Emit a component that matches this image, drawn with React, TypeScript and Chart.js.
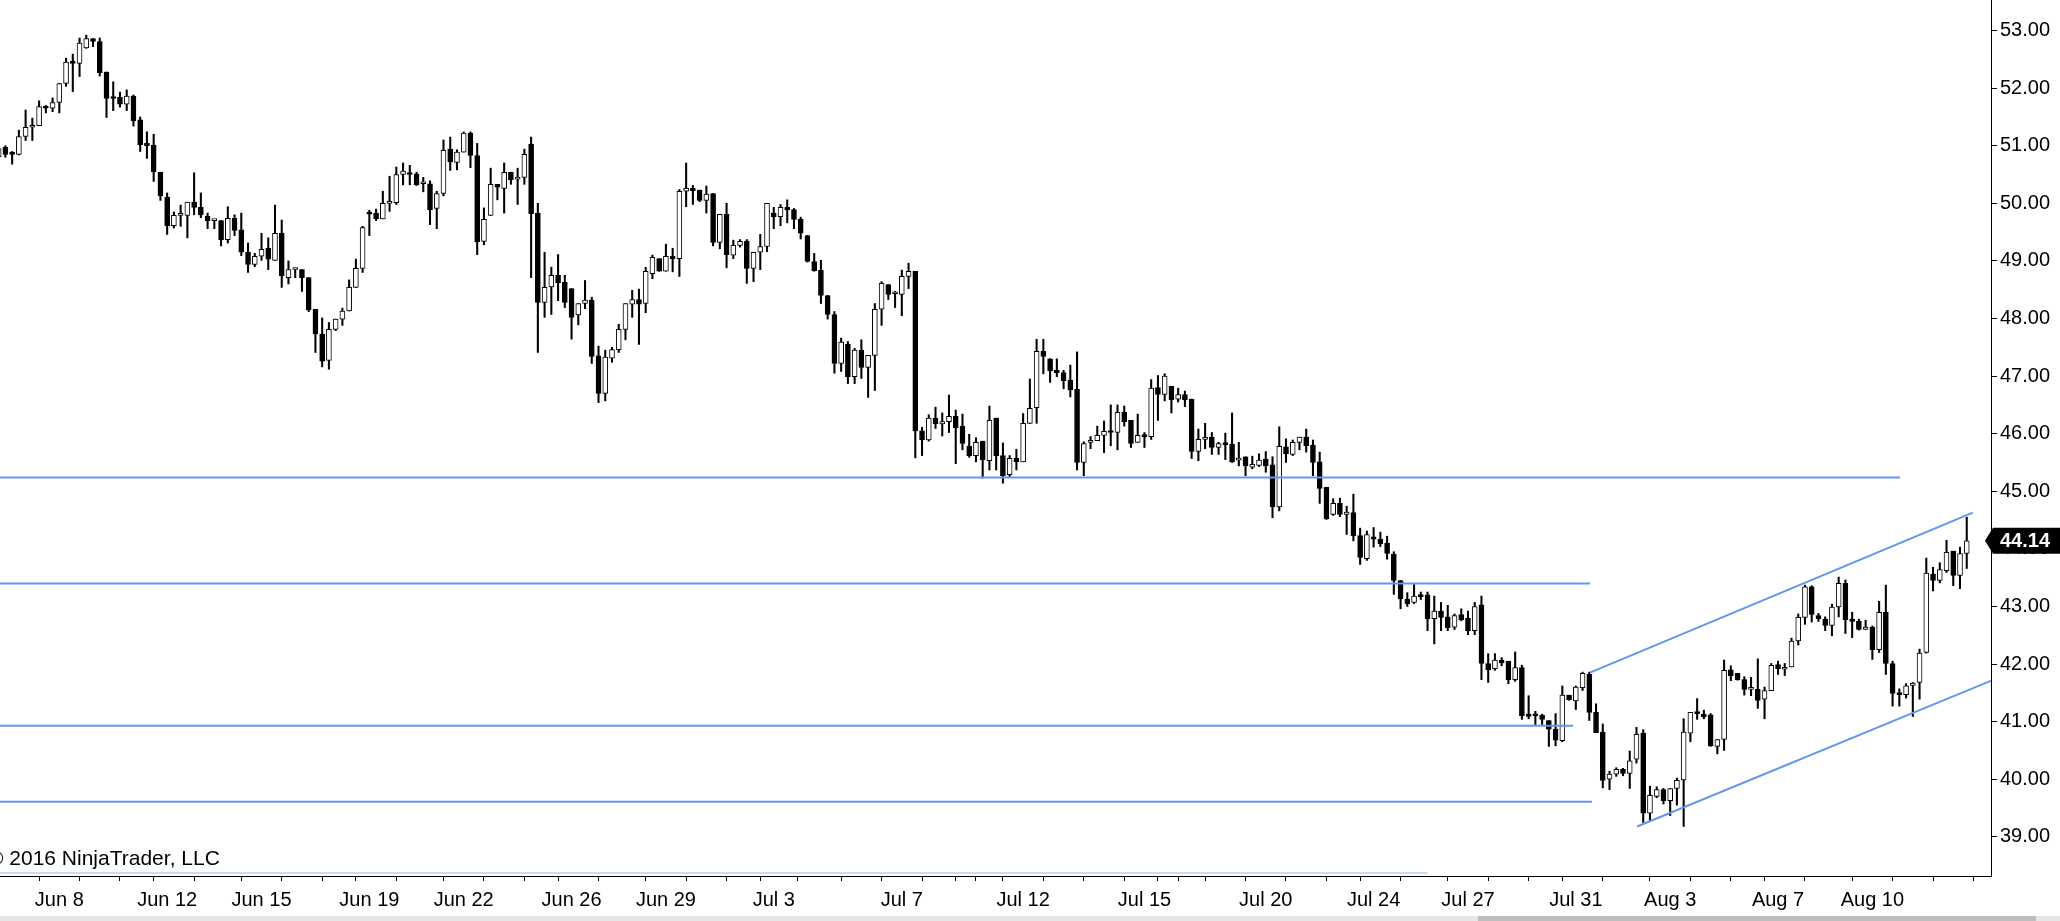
import React, { useEffect, useRef } from 'react';
import { Chart, registerables } from 'chart.js';

Chart.register(...registerables);

// 4-hour bars, oldest first
const opens = [
  50.81, 50.97, 50.87, 50.85, 51.16, 51.32, 51.35, 51.68, 51.65, 51.75,
  52.08, 52.45, 52.43, 52.70, 52.86, 52.81, 52.28, 51.84, 51.84, 51.72,
  51.86, 51.45, 51.04, 51.01, 50.54, 50.11, 49.61, 49.79, 49.79, 50.02,
  49.93, 49.78, 49.70, 49.70, 49.37, 49.74, 49.54, 49.15, 48.94, 49.08,
  49.22, 49.01, 49.48, 48.71, 48.85, 48.85, 48.71, 48.16, 47.73, 47.27,
  47.81, 47.99, 48.13, 48.54, 48.87, 49.83, 49.83, 49.73, 50.00, 50.01,
  50.50, 50.53, 50.51, 50.34, 50.34, 49.91, 50.17, 50.94, 50.71, 50.89,
  51.22, 50.83, 49.34, 49.79, 50.33, 50.26, 50.54, 50.42, 50.45, 51.03,
  49.83, 48.28, 48.55, 48.75, 48.63, 48.52, 48.06, 48.26, 48.32, 47.35,
  46.70, 47.31, 47.46, 47.81, 48.25, 48.33, 48.26, 48.78, 49.04, 48.82,
  49.08, 49.04, 50.21, 50.26, 50.23, 50.05, 50.17, 49.32, 49.81, 49.10,
  49.27, 49.34, 48.87, 49.15, 49.25, 49.83, 49.77, 49.93, 49.89, 49.72,
  49.44, 48.99, 48.84, 48.40, 48.07, 47.22, 47.55, 46.99, 47.45, 47.15,
  47.36, 48.16, 48.59, 48.43, 48.42, 48.73, 48.82, 46.05, 45.89, 46.27,
  46.17, 46.21, 46.30, 46.13, 45.78, 45.62, 45.87, 45.53, 46.27, 45.62,
  45.29, 45.57, 45.51, 46.18, 46.45, 47.43, 47.30, 47.10, 47.06, 46.93,
  46.77, 45.50, 45.85, 45.88, 45.97, 46.05, 46.02, 46.37, 46.23, 45.85,
  45.97, 45.95, 46.80, 46.68, 46.82, 46.60, 46.68, 46.60, 45.69, 45.90,
  45.94, 45.76, 45.83, 45.82, 45.54, 45.60, 45.42, 45.45, 45.56, 45.46,
  44.73, 45.77, 45.64, 45.85, 45.94, 45.80, 45.51, 45.07, 44.60, 44.79,
  44.60, 44.63, 44.23, 43.83, 44.21, 44.17, 44.10, 43.91, 43.45, 43.13,
  43.07, 43.20, 43.20, 42.79, 42.92, 42.82, 42.64, 42.86, 42.80, 42.58,
  43.03, 42.01, 41.92, 42.07, 42.05, 41.73, 41.94, 41.13, 41.13, 41.11,
  41.02, 40.87, 40.67, 41.46, 41.36, 41.59, 41.82, 41.16, 40.82, 40.00,
  40.09, 40.17, 40.10, 40.35, 40.80, 39.41, 39.70, 39.82, 39.63, 39.84,
  39.99, 40.80, 41.17, 41.13, 41.12, 40.57, 40.69, 41.90, 41.84, 41.73,
  41.56, 41.56, 41.39, 41.54, 41.99, 41.91, 41.95, 42.40, 42.81, 43.34,
  42.84, 42.78, 42.67, 42.99, 43.40, 42.78, 42.74, 42.60, 42.64, 42.25,
  42.90, 42.01, 41.50, 41.47, 41.63, 41.68, 42.20, 43.56, 43.45, 43.62,
  43.96, 43.54, 43.92,
];

const highs = [
  50.98, 51.00, 50.90, 51.27, 51.62, 51.48, 51.78, 51.70, 51.83, 52.08,
  52.52, 52.59, 52.87, 52.92, 52.86, 52.87, 52.28, 52.11, 51.93, 51.97,
  51.88, 51.50, 51.24, 51.20, 50.54, 50.18, 49.85, 49.97, 50.02, 50.53,
  50.18, 49.83, 49.70, 49.70, 49.94, 49.80, 49.83, 49.31, 49.13, 49.48,
  49.40, 49.97, 49.71, 49.00, 48.85, 48.85, 48.71, 48.16, 48.01, 47.93,
  47.99, 48.18, 48.67, 49.03, 49.60, 49.88, 49.90, 50.21, 50.47, 50.63,
  50.70, 50.66, 50.54, 50.45, 50.39, 50.21, 51.10, 51.15, 50.93, 51.24,
  51.24, 51.04, 49.92, 50.61, 50.33, 50.70, 50.54, 50.61, 50.94, 51.15,
  50.00, 49.15, 48.89, 49.11, 48.75, 48.52, 48.26, 48.66, 48.37, 47.52,
  47.45, 47.50, 47.90, 48.26, 48.49, 48.51, 48.89, 49.10, 49.04, 49.29,
  49.22, 50.24, 50.70, 50.31, 50.23, 50.30, 50.17, 49.81, 50.00, 49.36,
  49.37, 49.37, 49.15, 49.46, 50.00, 49.93, 49.98, 50.06, 49.91, 49.76,
  49.44, 49.13, 49.01, 48.40, 48.12, 47.66, 47.60, 47.48, 47.63, 47.36,
  48.26, 48.64, 48.59, 48.47, 48.84, 48.96, 48.82, 46.11, 46.33, 46.46,
  46.36, 46.67, 46.41, 46.34, 45.99, 45.93, 45.87, 46.48, 46.27, 45.84,
  45.62, 45.73, 46.35, 46.95, 47.64, 47.64, 47.30, 47.30, 47.10, 47.19,
  47.42, 45.86, 45.95, 46.13, 46.22, 46.50, 46.50, 46.48, 46.23, 46.34,
  46.02, 46.94, 47.01, 47.04, 46.82, 46.79, 46.74, 46.60, 46.08, 46.18,
  46.02, 45.85, 46.01, 46.36, 45.85, 45.60, 45.61, 45.65, 45.69, 45.60,
  46.12, 45.91, 45.89, 45.94, 46.08, 45.89, 45.68, 45.07, 44.87, 44.88,
  44.74, 44.95, 44.36, 44.31, 44.37, 44.29, 44.22, 43.95, 43.45, 43.24,
  43.38, 43.25, 43.25, 43.18, 43.07, 43.02, 42.87, 42.96, 42.92, 43.07,
  43.18, 42.18, 42.18, 42.11, 42.05, 42.21, 41.98, 41.45, 41.18, 41.13,
  41.02, 41.14, 41.62, 41.46, 41.62, 41.86, 41.86, 41.31, 40.96, 40.14,
  40.20, 40.19, 40.49, 40.90, 40.86, 39.88, 39.87, 39.84, 39.84, 40.02,
  41.05, 41.16, 41.40, 41.20, 41.14, 40.69, 42.07, 41.97, 41.84, 41.78,
  41.77, 42.09, 41.60, 42.01, 42.05, 42.01, 42.45, 42.87, 43.37, 43.36,
  42.88, 42.82, 43.04, 43.51, 43.46, 42.90, 42.78, 42.76, 42.66, 43.09,
  43.37, 42.05, 41.57, 41.66, 41.68, 42.26, 43.84, 43.68, 43.76, 44.15,
  43.96, 44.03, 44.55,
];

const lows = [
  50.62, 50.80, 50.68, 50.84, 51.09, 51.09, 51.35, 51.57, 51.59, 51.57,
  52.03, 51.94, 52.20, 52.69, 52.72, 52.21, 51.49, 51.61, 51.67, 51.61,
  51.34, 50.90, 50.78, 50.38, 50.05, 49.46, 49.57, 49.60, 49.40, 49.80,
  49.75, 49.56, 49.56, 49.26, 49.31, 49.44, 49.09, 48.80, 48.90, 49.01,
  48.85, 49.01, 48.54, 48.60, 48.71, 48.47, 48.12, 47.41, 47.16, 47.12,
  47.79, 47.88, 48.13, 48.54, 48.80, 49.44, 49.70, 49.73, 49.86, 49.98,
  50.32, 50.32, 50.31, 50.20, 49.63, 49.56, 50.13, 50.57, 50.58, 50.89,
  50.62, 49.11, 49.28, 49.79, 50.06, 49.83, 50.33, 49.98, 50.33, 48.71,
  47.41, 48.02, 48.07, 48.31, 48.19, 47.64, 47.89, 48.17, 47.22, 46.54,
  46.57, 47.24, 47.41, 47.63, 48.02, 47.55, 48.10, 48.69, 48.82, 48.82,
  48.81, 48.73, 49.94, 49.98, 50.03, 49.83, 49.26, 49.21, 48.88, 49.04,
  49.24, 48.61, 48.64, 48.85, 49.16, 49.56, 49.61, 49.66, 49.56, 49.38,
  48.98, 48.82, 48.26, 47.99, 47.05, 47.08, 46.87, 46.87, 46.96, 46.63,
  46.75, 47.88, 48.33, 48.19, 48.05, 48.52, 45.58, 45.62, 45.87, 46.09,
  45.96, 46.02, 45.48, 45.72, 45.59, 45.51, 45.23, 45.37, 45.37, 45.14,
  45.24, 45.37, 45.51, 46.18, 46.18, 47.04, 46.89, 46.99, 46.78, 46.64,
  45.37, 45.27, 45.74, 45.88, 45.67, 45.79, 45.72, 46.13, 45.76, 45.85,
  45.76, 45.90, 46.23, 46.57, 46.36, 46.55, 46.47, 45.57, 45.53, 45.74,
  45.64, 45.64, 45.55, 45.50, 45.44, 45.27, 45.39, 45.43, 45.33, 44.54,
  44.66, 45.50, 45.62, 45.72, 45.68, 45.27, 44.79, 44.51, 44.58, 44.56,
  44.25, 44.14, 43.73, 43.80, 44.03, 44.04, 43.82, 43.21, 42.96, 43.00,
  43.05, 43.12, 42.58, 42.35, 42.58, 42.58, 42.60, 42.75, 42.51, 42.51,
  41.73, 41.68, 41.89, 41.97, 41.66, 41.70, 41.04, 41.05, 40.95, 40.95,
  40.57, 40.58, 40.65, 41.37, 41.21, 41.54, 41.02, 40.81, 39.85, 39.82,
  40.05, 40.06, 39.84, 40.28, 39.25, 39.28, 39.68, 39.57, 39.37, 39.55,
  39.18, 40.65, 41.04, 41.05, 40.57, 40.44, 40.50, 41.71, 41.72, 41.46,
  41.45, 41.23, 41.05, 41.54, 41.82, 41.80, 41.95, 42.33, 42.69, 42.73,
  42.74, 42.58, 42.49, 42.82, 42.53, 42.46, 42.59, 42.60, 42.08, 42.20,
  41.82, 41.27, 41.27, 41.41, 41.09, 41.39, 42.19, 43.27, 43.41, 43.59,
  43.36, 43.31, 43.66,
];

const closes = [
  50.95, 50.85, 50.85, 51.16, 51.32, 51.35, 51.68, 51.65, 51.75, 52.08,
  52.45, 52.43, 52.78, 52.86, 52.81, 52.27, 51.82, 51.82, 51.72, 51.86,
  51.43, 51.02, 51.00, 50.55, 50.13, 49.61, 49.79, 49.79, 50.02, 49.93,
  49.80, 49.70, 49.70, 49.37, 49.74, 49.53, 49.15, 48.94, 49.08, 49.20,
  49.03, 49.48, 48.74, 48.85, 48.85, 48.71, 48.15, 47.73, 47.26, 47.81,
  47.99, 48.13, 48.54, 48.87, 49.58, 49.81, 49.73, 50.00, 50.03, 50.50,
  50.56, 50.50, 50.32, 50.34, 49.89, 50.17, 50.92, 50.72, 50.89, 51.22,
  50.83, 49.33, 49.72, 50.33, 50.28, 50.54, 50.41, 50.45, 50.85, 49.82,
  48.28, 48.54, 48.75, 48.62, 48.28, 48.02, 48.26, 48.32, 47.34, 46.70,
  47.33, 47.46, 47.81, 48.26, 48.33, 48.25, 48.82, 49.06, 48.82, 49.08,
  49.04, 50.21, 50.26, 50.22, 50.05, 50.16, 49.32, 49.81, 49.11, 49.27,
  49.34, 48.87, 49.15, 49.25, 50.00, 49.77, 49.93, 49.89, 49.72, 49.48,
  48.99, 48.83, 48.40, 48.07, 47.22, 47.59, 46.99, 47.45, 47.15, 47.36,
  48.16, 48.61, 48.42, 48.43, 48.73, 48.82, 46.05, 45.89, 46.27, 46.17,
  46.21, 46.30, 46.10, 45.83, 45.62, 45.85, 45.55, 46.23, 45.62, 45.27,
  45.57, 45.51, 46.18, 46.44, 47.43, 47.34, 47.09, 47.06, 46.92, 46.76,
  45.50, 45.83, 45.88, 45.97, 46.04, 46.02, 46.37, 46.21, 45.83, 45.97,
  45.95, 46.79, 46.68, 47.00, 46.59, 46.68, 46.59, 45.69, 45.90, 45.90,
  45.76, 45.83, 45.81, 45.51, 45.57, 45.44, 45.47, 45.54, 45.44, 44.73,
  45.78, 45.65, 45.85, 45.94, 45.79, 45.50, 45.05, 44.52, 44.79, 44.60,
  44.64, 44.23, 43.85, 44.25, 44.17, 44.09, 43.92, 43.45, 43.13, 43.05,
  43.18, 43.17, 42.79, 42.92, 42.81, 42.63, 42.84, 42.77, 42.58, 43.00,
  42.01, 41.90, 42.07, 42.02, 41.73, 41.94, 41.10, 41.09, 41.10, 41.04,
  40.87, 40.68, 41.46, 41.38, 41.60, 41.84, 41.16, 40.81, 39.98, 40.09,
  40.17, 40.10, 40.32, 40.78, 39.41, 39.72, 39.82, 39.63, 39.84, 39.98,
  40.82, 41.16, 41.14, 41.08, 40.58, 40.69, 41.89, 41.80, 41.73, 41.56,
  41.56, 41.37, 41.54, 41.98, 41.92, 41.94, 42.40, 42.81, 43.34, 42.86,
  42.79, 42.67, 42.99, 43.40, 42.77, 42.74, 42.60, 42.64, 42.25, 42.90,
  42.01, 41.49, 41.47, 41.62, 41.67, 42.19, 43.58, 43.45, 43.64, 43.94,
  43.54, 43.92, 44.14,
];

// x axis: one tick per session (bar index), dates written under some of them
const tickBars = [
  9, 15, 21, 25, 33, 39, 45, 51, 55, 63, 69, 75, 81, 85, 93, 99, 105, 111, 115, 122,
  128, 134, 140, 144, 146, 152, 158, 164, 170, 174, 176, 182, 188, 194, 200, 204,
  212, 218, 224, 230, 234, 242, 248, 254, 260, 264, 272, 278, 284, 290,
];
const dateBars = [9, 25, 39, 55, 69, 85, 99, 115, 134, 152, 170, 188, 204, 218, 234, 248, 264, 278];
const dateLabels = [
  'Jun 8', 'Jun 12', 'Jun 15', 'Jun 19', 'Jun 22', 'Jun 26', 'Jun 29', 'Jul 3', 'Jul 7',
  'Jul 12', 'Jul 15', 'Jul 20', 'Jul 24', 'Jul 27', 'Jul 31', 'Aug 3', 'Aug 7', 'Aug 10',
];

const priceTicks = [39, 40, 41, 42, 43, 44, 45, 46, 47, 48, 49, 50, 51, 52, 53];

// drawn horizontal levels: price and the bar where each one stops
const levelPrices = [45.24, 43.40, 40.93, 39.61];
const levelEndBars = [282.1, 236.1, 233.6, 236.4];
const faintLevelPrice = 38.37;
const faintLevelEndBar = 212;

// rising channel
const upperChannelBars = [236.1, 292.9];
const upperChannelPrices = [41.85, 44.63];
const lowerChannelBars = [243.1, 296];
const lowerChannelPrices = [39.18, 41.73];

const FONT = '"Liberation Sans", Arial, sans-serif';
const BLUE = '#6495ED';

const overlayPlugin = {
  id: 'overlay',
  afterDraw(chart: any) {
    const { ctx, chartArea } = chart;
    const y = chart.scales.y.getPixelForValue(closes[closes.length - 1]);
    const tip = chartArea.right - 6;
    ctx.save();
    // last price tag on the axis
    ctx.fillStyle = '#000';
    ctx.beginPath();
    ctx.moveTo(tip, y);
    ctx.lineTo(tip + 8, y - 13);
    ctx.lineTo(chart.width, y - 13);
    ctx.lineTo(chart.width, y + 13);
    ctx.lineTo(tip + 8, y + 13);
    ctx.closePath();
    ctx.fill();
    ctx.fillStyle = '#fff';
    ctx.font = 'bold 20px ' + FONT;
    ctx.textBaseline = 'middle';
    ctx.textAlign = 'left';
    ctx.fillText(closes[closes.length - 1].toFixed(2), chartArea.right + 9, y + 1);
    // copyright note
    ctx.fillStyle = '#000';
    ctx.font = '21px ' + FONT;
    ctx.textBaseline = 'alphabetic';
    ctx.fillText('\u00A9 2016 NinjaTrader, LLC', chartArea.left - 12, chartArea.bottom - 11);
    ctx.restore();
  },
};

const levelLine = (x0: number, x1: number, p0: number, p1: number, color = BLUE, width = 2) => ({
  type: 'line' as const,
  data: [{ x: x0, y: p0 }, { x: x1, y: p1 }],
  borderColor: color,
  borderWidth: width,
  pointRadius: 0,
  fill: false,
  order: 0,
});

const CandleChart: React.FC = () => {
  const chartRef = useRef<HTMLCanvasElement | null>(null);
  const chartInstanceRef = useRef<Chart | null>(null);

  useEffect(() => {
    document.body.style.margin = '0';
    if (!chartRef.current) return;
    const ctx = chartRef.current.getContext('2d');
    if (!ctx) return;
    if (chartInstanceRef.current) {
      chartInstanceRef.current.destroy();
    }

    const lines = [
      ...levelPrices.map((p, i) => levelLine(0, levelEndBars[i], p, p)),
      levelLine(0, faintLevelEndBar, faintLevelPrice, faintLevelPrice, '#b9cbf2', 1.5),
      levelLine(upperChannelBars[0], upperChannelBars[1], upperChannelPrices[0], upperChannelPrices[1]),
      levelLine(lowerChannelBars[0], lowerChannelBars[1], lowerChannelPrices[0], lowerChannelPrices[1]),
    ];

    chartInstanceRef.current = new Chart(ctx, {
      type: 'bar',
      data: {
        datasets: [
          ...lines,
          {
            // bodies
            type: 'bar',
            data: opens.map((o, i) => ({ x: i, y: [o, closes[i]] })),
            backgroundColor: opens.map((o, i) => (closes[i] >= o ? '#ffffff' : '#000000')),
            borderColor: '#000',
            borderWidth: 1,
            borderSkipped: false,
            barThickness: 5,
            minBarLength: 2,
            grouped: false,
            order: 1,
          },
          {
            // wicks
            type: 'bar',
            data: lows.map((l, i) => ({ x: i, y: [l, highs[i]] })),
            backgroundColor: '#000',
            borderWidth: 0,
            barThickness: 1.4,
            grouped: false,
            order: 2,
          },
        ] as any,
      },
      options: {
        animation: false,
        responsive: true,
        maintainAspectRatio: false,
        events: [],
        layout: { padding: 0 },
        plugins: {
          legend: { display: false },
          tooltip: { enabled: false },
        },
        scales: {
          x: {
            type: 'linear',
            min: 0.2,
            max: 295.6,
            offset: false,
            grid: { display: true, drawOnChartArea: false, drawTicks: true, tickLength: 5, color: '#000' },
            border: { display: true, color: '#000', width: 1 },
            afterBuildTicks: (scale: any) => {
              scale.ticks = tickBars.map((v) => ({ value: v }));
            },
            afterFit: (scale: any) => {
              scale.height = 40;
              scale.paddingLeft = 0;
              scale.paddingRight = 0;
            },
            ticks: {
              autoSkip: false,
              maxRotation: 0,
              padding: 7,
              color: '#000',
              font: { family: FONT, size: 20 },
              callback: (v: any) => {
                const i = dateBars.indexOf(Number(v));
                return i >= 0 ? dateLabels[i] : '';
              },
            },
          },
          y: {
            type: 'linear',
            position: 'right',
            min: 38.32,
            max: 53.53,
            grid: { display: true, drawOnChartArea: false, drawTicks: true, tickLength: 6, color: '#000' },
            border: { display: true, color: '#000', width: 1 },
            afterBuildTicks: (scale: any) => {
              scale.ticks = priceTicks.map((v) => ({ value: v }));
            },
            afterFit: (scale: any) => {
              scale.width = 69;
              scale.paddingTop = 0;
              scale.paddingBottom = 0;
            },
            ticks: {
              padding: 3,
              color: '#000',
              font: { family: FONT, size: 20 },
              callback: (v: any) => Number(v).toFixed(2),
            },
          },
        },
      } as any,
      plugins: [overlayPlugin],
    });

    return () => {
      if (chartInstanceRef.current) {
        chartInstanceRef.current.destroy();
        chartInstanceRef.current = null;
      }
    };
  }, []);

  return (
    <div style={{ position: 'absolute', left: 0, top: 0, width: 2060, height: 921, background: '#fff' }}>
      <div style={{ position: 'relative', width: 2060, height: 916 }}>
        <canvas ref={chartRef}></canvas>
      </div>
      <div style={{ position: 'relative', width: 2060, height: 5, background: '#e6e6e6' }}>
        <div style={{ position: 'absolute', left: 1478, top: 0, width: 558, height: 5, background: '#bdbdbd' }} />
      </div>
    </div>
  );
};

export default function App() {
  return <CandleChart />;
}
